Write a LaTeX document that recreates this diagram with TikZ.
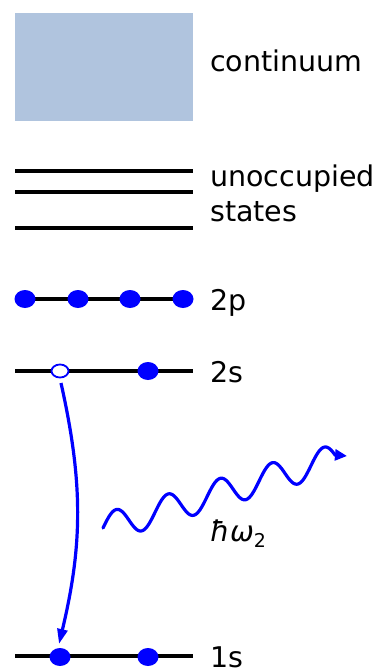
\documentclass[tikz,border=0pt]{standalone}
\usepackage{fontspec}
\setmainfont{DejaVu Sans}
\usetikzlibrary{arrows.meta}
\definecolor{contcol}{HTML}{B0C4DE}
\begin{document}
\begin{tikzpicture}[x=1pt,y=-1pt,
  level/.style={line width=3.6pt,black},
  lbl/.style={anchor=base west,inner sep=0pt,font=\fontsize{28.5}{34}\selectfont},
  trans/.style={blue,line width=3.2pt,-{Triangle[length=15pt,width=10pt]}},
  photon/.style={blue,line width=3.2pt,line cap=round,-{Triangle[length=12pt,width=11pt]}}]
\useasboundingbox (0,0) rectangle (374,668);
% continuum
\fill[contcol] (15,13) rectangle (193,121);
\node[lbl] (lcont) at (210,72) {continuum};
% unoccupied states
\draw[level] (15,171) -- (193,171);
\draw[level] (15,192) -- (193,192);
\draw[level] (15,228) -- (193,228);
\node[lbl] (lunocc) at (210,186) {unoccupied};
\node[lbl] (lstates) at (210,221) {states};
% 2p
\draw[level] (15,299) -- (193,299);
\foreach \x/\n in {25/a,78/b,130/c,183/d}
  \fill[blue] (\x,299) ellipse [x radius=10.5, y radius=9] coordinate (p\n);
\node[lbl] (l2p) at (210,310) {2p};
% 2s
\draw[level] (15,371) -- (193,371);
\draw[blue,line width=1.8pt,fill=white] (60,371) ellipse [x radius=8.5, y radius=6.5];
\coordinate (hole) at (60,371);
\fill[blue] (148,371) ellipse [x radius=10.5, y radius=9];
\coordinate (s2b) at (148,371);
\node[lbl] (l2s) at (210,382) {2s};
% 1s
\draw[level] (15,656) -- (193,656);
\fill[blue] (60,657) ellipse [x radius=10.5, y radius=9];
\fill[blue] (148,657) ellipse [x radius=10.5, y radius=9];
\coordinate (s1a) at (60,657);
\node[lbl] (l1s) at (210,667) {1s};
% transition arrow
\coordinate (tstart) at (61,383);
\coordinate (tend) at (59,644);
\draw[trans] (tstart) to[bend left=13] (tend);
% photon
\coordinate (wend) at (347,456);
\draw[photon] plot[domain=0:232,samples=240,smooth] ({103+\x},{528-0.3*\x-14.5*sin(6.923*\x)}) -- (wend);
\node[anchor=base west,inner sep=0pt,font=\fontsize{28.5}{34}\selectfont] (lphot) at (210,541) {\itshape ħω\raisebox{-0.22em}{\fontsize{19}{21}\selectfont\upshape 2}};
\end{tikzpicture}
\end{document}
